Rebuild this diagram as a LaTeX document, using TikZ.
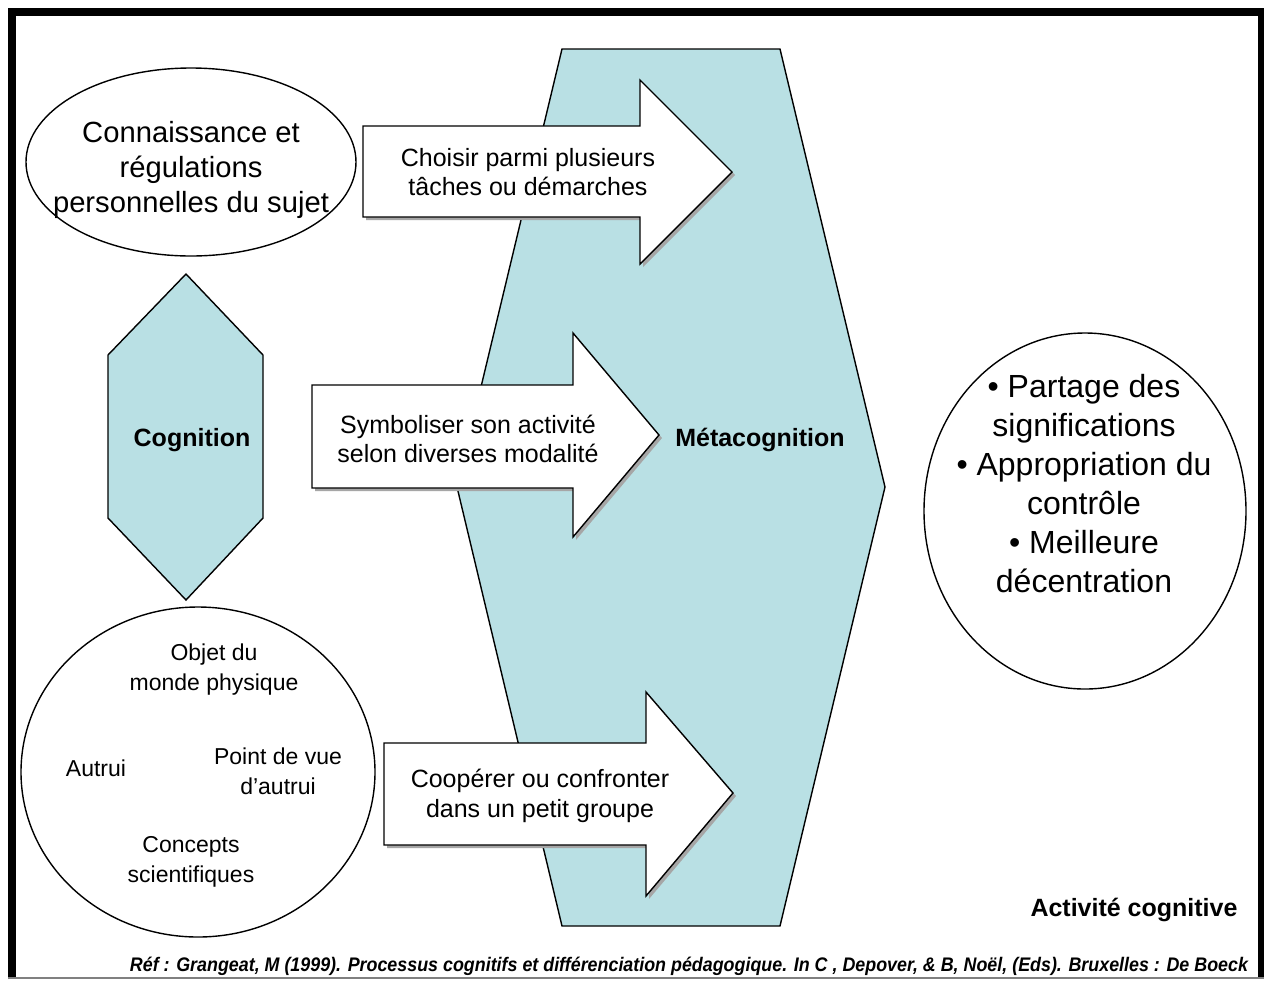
\documentclass[tikz,border=0pt]{standalone}
\usepackage{fontspec}
\setmainfont{Liberation Sans}
\usepackage{graphicx}
\definecolor{metablue}{RGB}{185,224,228}
\begin{document}
\begin{tikzpicture}[x=0.5pt,y=-0.5pt,
  shapeline/.style={draw=black,line width=0.7pt},
  bluefill/.style={shapeline,fill=metablue},
  arrowbox/.style={shapeline,fill=white},
  shadowbox/.style={fill=gray!70,draw=none},
  bigtext/.style={align=center,font=\fontsize{14.6pt}{17.5pt}\selectfont},
  arrowtext/.style={align=center,font=\fontsize{12.5pt}{14.7pt}\selectfont},
  boldlabel/.style={font=\bfseries\fontsize{12.5pt}{15pt}\selectfont},
  smalltext/.style={align=center,font=\fontsize{11.5pt}{15pt}\selectfont},
  circletext/.style={align=center,font=\fontsize{16pt}{19.5pt}\selectfont}]
\useasboundingbox (0,0) rectangle (1264,981);
\fill[white] (0,0) rectangle (1264,981);
% frame
\draw[line width=4pt] (12,979) -- (12,12) -- (1262,12) -- (1262,979);
\draw[gray,line width=0.8pt] (8,978) -- (1264,978);
% big hexagon (Metacognition)
\draw[bluefill] (562,49) -- (780,49) -- (885,487) -- (780,926) -- (562,926) -- (457,487) -- cycle;
% Cognition hexagon
\draw[bluefill] (186,274) -- (263,355) -- (263,518) -- (186,600) -- (108,518) -- (108,355) -- cycle;
% ellipses
\draw[shapeline,fill=white] (191,162) ellipse [x radius=82.5pt, y radius=47pt];
\draw[shapeline,fill=white] (198,772) ellipse [x radius=88.5pt, y radius=82.5pt];
\draw[shapeline,fill=white] (1085,511) ellipse [x radius=80.5pt, y radius=89pt];
% arrow 1
\fill[shadowbox] (366,129) -- (643,129) -- (643,83) -- (735,175) -- (643,267) -- (643,220) -- (366,220) -- cycle;
\draw[arrowbox] (363,126) -- (640,126) -- (640,80) -- (732,172) -- (640,264) -- (640,217) -- (363,217) -- cycle;
% arrow 2
\fill[shadowbox] (315,388) -- (576,388) -- (576,336) -- (662,438) -- (576,540) -- (576,491) -- (315,491) -- cycle;
\draw[arrowbox] (312,385) -- (573,385) -- (573,333) -- (659,435) -- (573,537) -- (573,488) -- (312,488) -- cycle;
% arrow 3
\fill[shadowbox] (387,746) -- (649,746) -- (649,695) -- (736,796) -- (649,899) -- (649,848) -- (387,848) -- cycle;
\draw[arrowbox] (384,743) -- (646,743) -- (646,692) -- (733,793) -- (646,896) -- (646,845) -- (384,845) -- cycle;
% texts
\node[bigtext] (sujet) at (191,170) {Connaissance et\\régulations\\personnelles du sujet};
\node[arrowtext] (choisir) at (528,172) {Choisir parmi plusieurs\\tâches ou démarches};
\node[arrowtext] (symb) at (468,439) {Symboliser son activité\\selon diverses modalité};
\node[arrowtext] (coop) at (540,796) {Coopérer ou confronter\\dans un petit groupe};
\node[boldlabel] (cog) at (192,440) {Cognition};
\node[boldlabel] (meta) at (760,440) {Métacognition};
\node[smalltext] (objet) at (214,670) {Objet du\\monde physique};
\node[smalltext] (autrui) at (96,768) {Autrui};
\node[smalltext] (pdv) at (278,771) {Point de vue\\d’autrui};
\node[smalltext] (concepts) at (191,862) {Concepts\\scientifiques};
\node[circletext] (result) at (1084,484) {• Partage des\\significations\\• Appropriation du\\contrôle\\• Meilleure\\décentration};
\node[boldlabel] (activite) at (1134,910) {Activité cognitive};
\node[inner sep=0pt] (ref) at (689,966) {\resizebox{559pt}{7.2pt}{\bfseries\itshape Réf : Grangeat, M (1999). Processus cognitifs et différenciation pédagogique. In C , Depover, \& B, Noël, (Eds). Bruxelles : De Boeck}};
\end{tikzpicture}
\end{document}
